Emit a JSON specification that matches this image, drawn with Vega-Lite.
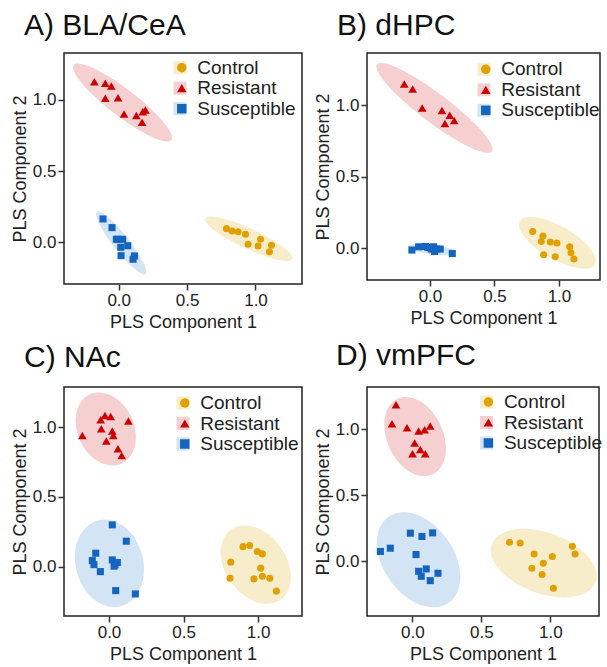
{
  "$schema": "https://vega.github.io/schema/vega-lite/v6.json",
  "padding": {"left": 10, "top": 10, "right": 0, "bottom": 0},
  "config": {
    "font": "Liberation Sans",
    "view": {"stroke": "#222", "strokeWidth": 1.5},
    "axis": {"grid": false, "domain": false, "tickColor": "#333", "tickSize": 6, "tickWidth": 1.5, "labelFontSize": 17, "labelColor": "#222", "titleFontSize": 18, "titleFontWeight": "normal", "titleColor": "#222", "labelPadding": 2},
    "axisX": {"titlePadding": 5},
    "axisY": {"titlePadding": 3},
    "legend": {"labelFontSize": 19, "labelColor": "#222", "padding": 0, "rowPadding": 0.5, "titlePadding": 0}
  },
  "datasets": {
    "pts": [
      {"panel": "A", "group": "Resistant", "x": -0.178, "y": 1.128},
      {"panel": "A", "group": "Resistant", "x": -0.098, "y": 1.117},
      {"panel": "A", "group": "Resistant", "x": -0.054, "y": 1.098},
      {"panel": "A", "group": "Resistant", "x": -0.098, "y": 1.012},
      {"panel": "A", "group": "Resistant", "x": -0.005, "y": 1.016},
      {"panel": "A", "group": "Resistant", "x": 0.039, "y": 0.902},
      {"panel": "A", "group": "Resistant", "x": 0.129, "y": 0.890},
      {"panel": "A", "group": "Resistant", "x": 0.176, "y": 0.918},
      {"panel": "A", "group": "Resistant", "x": 0.195, "y": 0.930},
      {"panel": "A", "group": "Resistant", "x": 0.171, "y": 0.843},
      {"panel": "A", "group": "Control", "x": 0.788, "y": 0.096},
      {"panel": "A", "group": "Control", "x": 0.829, "y": 0.079},
      {"panel": "A", "group": "Control", "x": 0.873, "y": 0.074},
      {"panel": "A", "group": "Control", "x": 0.927, "y": 0.056},
      {"panel": "A", "group": "Control", "x": 1.037, "y": 0.021},
      {"panel": "A", "group": "Control", "x": 0.946, "y": -0.014},
      {"panel": "A", "group": "Control", "x": 1.019, "y": -0.026},
      {"panel": "A", "group": "Control", "x": 1.117, "y": -0.021},
      {"panel": "A", "group": "Control", "x": 1.102, "y": -0.066},
      {"panel": "A", "group": "Susceptible", "x": -0.115, "y": 0.164},
      {"panel": "A", "group": "Susceptible", "x": -0.049, "y": 0.103},
      {"panel": "A", "group": "Susceptible", "x": -0.007, "y": 0.021},
      {"panel": "A", "group": "Susceptible", "x": 0.029, "y": 0.021},
      {"panel": "A", "group": "Susceptible", "x": 0.015, "y": -0.035},
      {"panel": "A", "group": "Susceptible", "x": 0.066, "y": -0.024},
      {"panel": "A", "group": "Susceptible", "x": 0.017, "y": -0.094},
      {"panel": "A", "group": "Susceptible", "x": 0.115, "y": -0.096},
      {"panel": "A", "group": "Susceptible", "x": 0.105, "y": -0.119},
      {"panel": "A", "group": "Susceptible", "x": -0.017, "y": 0.021},
      {"panel": "B", "group": "Resistant", "x": -0.199, "y": 1.151},
      {"panel": "B", "group": "Resistant", "x": -0.134, "y": 1.116},
      {"panel": "B", "group": "Resistant", "x": -0.060, "y": 0.983},
      {"panel": "B", "group": "Resistant", "x": 0.093, "y": 0.965},
      {"panel": "B", "group": "Resistant", "x": 0.153, "y": 0.932},
      {"panel": "B", "group": "Resistant", "x": 0.116, "y": 0.874},
      {"panel": "B", "group": "Resistant", "x": 0.188, "y": 0.895},
      {"panel": "B", "group": "Control", "x": 0.796, "y": 0.116},
      {"panel": "B", "group": "Control", "x": 0.876, "y": 0.084},
      {"panel": "B", "group": "Control", "x": 0.863, "y": 0.046},
      {"panel": "B", "group": "Control", "x": 0.933, "y": 0.042},
      {"panel": "B", "group": "Control", "x": 0.984, "y": 0.035},
      {"panel": "B", "group": "Control", "x": 1.083, "y": 0.009},
      {"panel": "B", "group": "Control", "x": 0.881, "y": -0.047},
      {"panel": "B", "group": "Control", "x": 0.971, "y": -0.061},
      {"panel": "B", "group": "Control", "x": 1.093, "y": -0.033},
      {"panel": "B", "group": "Control", "x": 1.116, "y": -0.077},
      {"panel": "B", "group": "Susceptible", "x": -0.140, "y": -0.014},
      {"panel": "B", "group": "Susceptible", "x": -0.088, "y": 0.009},
      {"panel": "B", "group": "Susceptible", "x": -0.036, "y": 0.011},
      {"panel": "B", "group": "Susceptible", "x": -0.016, "y": 0.004},
      {"panel": "B", "group": "Susceptible", "x": 0.010, "y": -0.007},
      {"panel": "B", "group": "Susceptible", "x": 0.036, "y": -0.024},
      {"panel": "B", "group": "Susceptible", "x": 0.054, "y": -0.007},
      {"panel": "B", "group": "Susceptible", "x": 0.080, "y": -0.007},
      {"panel": "B", "group": "Susceptible", "x": 0.173, "y": -0.038},
      {"panel": "B", "group": "Susceptible", "x": 0.029, "y": 0.009},
      {"panel": "C", "group": "Resistant", "x": -0.179, "y": 0.940},
      {"panel": "C", "group": "Resistant", "x": -0.056, "y": 1.052},
      {"panel": "C", "group": "Resistant", "x": -0.027, "y": 1.083},
      {"panel": "C", "group": "Resistant", "x": 0.011, "y": 1.076},
      {"panel": "C", "group": "Resistant", "x": -0.052, "y": 0.988},
      {"panel": "C", "group": "Resistant", "x": 0.022, "y": 0.971},
      {"panel": "C", "group": "Resistant", "x": -0.018, "y": 0.900},
      {"panel": "C", "group": "Resistant", "x": 0.029, "y": 0.940},
      {"panel": "C", "group": "Resistant", "x": 0.060, "y": 0.844},
      {"panel": "C", "group": "Resistant", "x": 0.085, "y": 0.796},
      {"panel": "C", "group": "Resistant", "x": 0.130, "y": 1.043},
      {"panel": "C", "group": "Susceptible", "x": 0.022, "y": 0.299},
      {"panel": "C", "group": "Susceptible", "x": 0.116, "y": 0.182},
      {"panel": "C", "group": "Susceptible", "x": -0.089, "y": 0.096},
      {"panel": "C", "group": "Susceptible", "x": -0.112, "y": 0.043},
      {"panel": "C", "group": "Susceptible", "x": -0.101, "y": 0.014},
      {"panel": "C", "group": "Susceptible", "x": -0.058, "y": -0.036},
      {"panel": "C", "group": "Susceptible", "x": 0.022, "y": 0.048},
      {"panel": "C", "group": "Susceptible", "x": 0.040, "y": 0.012},
      {"panel": "C", "group": "Susceptible", "x": 0.056, "y": 0.029},
      {"panel": "C", "group": "Susceptible", "x": 0.034, "y": 0.003},
      {"panel": "C", "group": "Susceptible", "x": 0.045, "y": -0.172},
      {"panel": "C", "group": "Susceptible", "x": 0.177, "y": -0.196},
      {"panel": "C", "group": "Control", "x": 0.899, "y": 0.143},
      {"panel": "C", "group": "Control", "x": 0.944, "y": 0.151},
      {"panel": "C", "group": "Control", "x": 0.995, "y": 0.108},
      {"panel": "C", "group": "Control", "x": 1.029, "y": 0.091},
      {"panel": "C", "group": "Control", "x": 0.817, "y": 0.032},
      {"panel": "C", "group": "Control", "x": 1.018, "y": -0.011},
      {"panel": "C", "group": "Control", "x": 0.812, "y": -0.083},
      {"panel": "C", "group": "Control", "x": 0.973, "y": -0.088},
      {"panel": "C", "group": "Control", "x": 1.029, "y": -0.069},
      {"panel": "C", "group": "Control", "x": 1.079, "y": -0.083},
      {"panel": "C", "group": "Control", "x": 1.123, "y": -0.176},
      {"panel": "D", "group": "Resistant", "x": -0.118, "y": 1.187},
      {"panel": "D", "group": "Resistant", "x": -0.147, "y": 1.043},
      {"panel": "D", "group": "Resistant", "x": -0.038, "y": 1.012},
      {"panel": "D", "group": "Resistant", "x": 0.046, "y": 0.987},
      {"panel": "D", "group": "Resistant", "x": 0.089, "y": 0.997},
      {"panel": "D", "group": "Resistant", "x": 0.130, "y": 1.025},
      {"panel": "D", "group": "Resistant", "x": 0.017, "y": 0.896},
      {"panel": "D", "group": "Resistant", "x": 0.058, "y": 0.848},
      {"panel": "D", "group": "Resistant", "x": 0.002, "y": 0.815},
      {"panel": "D", "group": "Resistant", "x": 0.094, "y": 0.815},
      {"panel": "D", "group": "Susceptible", "x": -0.231, "y": 0.074},
      {"panel": "D", "group": "Susceptible", "x": -0.159, "y": 0.099},
      {"panel": "D", "group": "Susceptible", "x": -0.014, "y": 0.213},
      {"panel": "D", "group": "Susceptible", "x": 0.070, "y": 0.188},
      {"panel": "D", "group": "Susceptible", "x": 0.147, "y": 0.215},
      {"panel": "D", "group": "Susceptible", "x": 0.027, "y": 0.051},
      {"panel": "D", "group": "Susceptible", "x": 0.046, "y": -0.076},
      {"panel": "D", "group": "Susceptible", "x": 0.065, "y": -0.114},
      {"panel": "D", "group": "Susceptible", "x": 0.101, "y": -0.058},
      {"panel": "D", "group": "Susceptible", "x": 0.130, "y": -0.147},
      {"panel": "D", "group": "Susceptible", "x": 0.186, "y": -0.091},
      {"panel": "D", "group": "Control", "x": 0.704, "y": 0.144},
      {"panel": "D", "group": "Control", "x": 0.781, "y": 0.139},
      {"panel": "D", "group": "Control", "x": 0.882, "y": 0.055},
      {"panel": "D", "group": "Control", "x": 0.949, "y": -0.015},
      {"panel": "D", "group": "Control", "x": 1.014, "y": 0.036},
      {"panel": "D", "group": "Control", "x": 0.866, "y": -0.053},
      {"panel": "D", "group": "Control", "x": 0.940, "y": -0.101},
      {"panel": "D", "group": "Control", "x": 1.159, "y": 0.114},
      {"panel": "D", "group": "Control", "x": 1.179, "y": 0.055},
      {"panel": "D", "group": "Control", "x": 1.022, "y": -0.205}
    ],
    "ell": [
      {"panel": "A", "group": "Control", "x": 0.951, "y": 0.025, "major": 0.702, "angle": 25},
      {"panel": "A", "group": "Resistant", "x": 0.028, "y": 0.982, "major": 0.900, "angle": 37.5},
      {"panel": "A", "group": "Susceptible", "x": 0.018, "y": -0.004, "major": 0.578, "angle": 52},
      {"panel": "B", "group": "Control", "x": 0.988, "y": 0.037, "major": 0.673, "angle": 30},
      {"panel": "B", "group": "Resistant", "x": 0.035, "y": 0.983, "major": 1.116, "angle": 37},
      {"panel": "B", "group": "Susceptible", "x": 0.016, "y": -0.010, "major": 0.372, "angle": 7},
      {"panel": "C", "group": "Control", "x": 0.985, "y": 0.014, "major": 0.576, "angle": 55},
      {"panel": "C", "group": "Resistant", "x": -0.022, "y": 0.986, "major": 0.510, "angle": 65},
      {"panel": "C", "group": "Susceptible", "x": 0.003, "y": 0.023, "major": 0.596, "angle": 75},
      {"panel": "D", "group": "Control", "x": 0.952, "y": -0.014, "major": 0.800, "angle": 20},
      {"panel": "D", "group": "Resistant", "x": 0.020, "y": 0.945, "major": 0.602, "angle": 65},
      {"panel": "D", "group": "Susceptible", "x": 0.046, "y": 0.011, "major": 0.759, "angle": 55}
    ]
  },
  "columns": 2,
  "spacing": {"row": 8, "column": 10},
  "resolve": {"scale": {"x": "independent", "y": "independent", "color": "independent", "fill": "independent", "shape": "independent", "size": "independent", "angle": "independent"}},
  "concat": [
    {
      "title": {"text": "A) BLA/CeA", "anchor": "start", "frame": "group", "dx": -40, "dy": 30, "offset": 18, "baseline": "alphabetic", "fontSize": 30, "fontWeight": "normal", "color": "#111"},
      "width": 238, "height": 231,
      "encoding": {
        "x": {"field": "x", "type": "quantitative", "title": "PLS Component 1", "scale": {"domain": [-0.40, 1.34], "nice": false, "zero": false}, "axis": {"values": [0, 0.5, 1], "format": ".1f"}},
        "y": {"field": "y", "type": "quantitative", "title": "PLS Component 2", "scale": {"domain": [-0.293, 1.33], "nice": false, "zero": false}, "axis": {"values": [0, 0.5, 1], "format": ".1f"}}
      },
      "layer": [
        {
          "data": {"name": "ell"},
          "transform": [{"filter": "datum.panel === 'A'"}],
          "layer": [
            {"transform": [{"filter": "datum.group === 'Control'"}], "mark": {"type": "point", "filled": true, "opacity": 1, "strokeWidth": 0, "shape": "M-1,0A1,0.21 0 1,1 1,0A1,0.21 0 1,1 -1,0Z"}},
            {"transform": [{"filter": "datum.group === 'Resistant'"}], "mark": {"type": "point", "filled": true, "opacity": 1, "strokeWidth": 0, "shape": "M-1,0A1,0.22 0 1,1 1,0A1,0.22 0 1,1 -1,0Z"}},
            {"transform": [{"filter": "datum.group === 'Susceptible'"}], "mark": {"type": "point", "filled": true, "opacity": 1, "strokeWidth": 0, "shape": "M-1,0A1,0.2 0 1,1 1,0A1,0.2 0 1,1 -1,0Z"}}
          ],
          "encoding": {
            "fill": {"field": "group", "type": "nominal", "scale": {"range": ["#F8EDCB", "#F6D0D0", "#D3E4F5"]}, "legend": {"orient": "none", "legendX": 106.5, "legendY": 5.2, "title": null, "symbolType": "square", "symbolSize": 169, "labelExpr": "''", "symbolOpacity": 1, "symbolStrokeWidth": 0, "zindex": 0}},
            "size": {"field": "major", "type": "quantitative", "scale": {"type": "pow", "exponent": 2, "domain": [0, 1], "range": [0, 18687]}, "legend": null},
            "angle": {"field": "angle", "type": "quantitative", "scale": {"domain": [0, 360], "range": [0, 360]}}
          }
        },
        {
          "data": {"name": "pts"},
          "transform": [{"filter": "datum.panel === 'A'"}],
          "mark": {"type": "point", "filled": true, "opacity": 1},
          "encoding": {
            "color": {"field": "group", "type": "nominal", "scale": {"range": ["#E0A100", "#CC0000", "#1464C0"]}, "legend": {"orient": "none", "legendX": 108.3, "legendY": 5.2, "title": null, "symbolSize": 90, "labelOffset": 6, "symbolStrokeWidth": 0, "zindex": 1}},
            "shape": {"field": "group", "type": "nominal", "scale": {"range": ["circle", "triangle-up", "square"]}},
            "size": {"condition": {"test": "datum.group === 'Resistant'", "value": 75}, "value": 50}
          }
        }
      ]
    },
    {
      "title": {"text": "B) dHPC", "anchor": "start", "frame": "group", "dx": -30, "dy": 30, "offset": 18, "baseline": "alphabetic", "fontSize": 30, "fontWeight": "normal", "color": "#111"},
      "width": 233, "height": 227,
      "encoding": {
        "x": {"field": "x", "type": "quantitative", "title": "PLS Component 1", "scale": {"domain": [-0.488, 1.318], "nice": false, "zero": false}, "axis": {"values": [0, 0.5, 1], "format": ".1f"}},
        "y": {"field": "y", "type": "quantitative", "title": "PLS Component 2", "scale": {"domain": [-0.224, 1.368], "nice": false, "zero": false}, "axis": {"values": [0, 0.5, 1], "format": ".1f"}}
      },
      "layer": [
        {
          "data": {"name": "ell"},
          "transform": [{"filter": "datum.panel === 'B'"}],
          "layer": [
            {"transform": [{"filter": "datum.group === 'Control'"}], "mark": {"type": "point", "filled": true, "opacity": 1, "strokeWidth": 0, "shape": "M-1,0A1,0.38 0 1,1 1,0A1,0.38 0 1,1 -1,0Z"}},
            {"transform": [{"filter": "datum.group === 'Resistant'"}], "mark": {"type": "point", "filled": true, "opacity": 1, "strokeWidth": 0, "shape": "M-1,0A1,0.2 0 1,1 1,0A1,0.2 0 1,1 -1,0Z"}},
            {"transform": [{"filter": "datum.group === 'Susceptible'"}], "mark": {"type": "point", "filled": true, "opacity": 1, "strokeWidth": 0, "shape": "M-1,0A1,0.2 0 1,1 1,0A1,0.2 0 1,1 -1,0Z"}}
          ],
          "encoding": {
            "fill": {"field": "group", "type": "nominal", "scale": {"range": ["#F8EDCB", "#F6D0D0", "#D3E4F5"]}, "legend": {"orient": "none", "legendX": 107.5, "legendY": 6.8, "title": null, "symbolType": "square", "symbolSize": 169, "labelExpr": "''", "symbolOpacity": 1, "symbolStrokeWidth": 0, "zindex": 0}},
            "size": {"field": "major", "type": "quantitative", "scale": {"type": "pow", "exponent": 2, "domain": [0, 1], "range": [0, 16641]}, "legend": null},
            "angle": {"field": "angle", "type": "quantitative", "scale": {"domain": [0, 360], "range": [0, 360]}}
          }
        },
        {
          "data": {"name": "pts"},
          "transform": [{"filter": "datum.panel === 'B'"}],
          "mark": {"type": "point", "filled": true, "opacity": 1},
          "encoding": {
            "color": {"field": "group", "type": "nominal", "scale": {"range": ["#E0A100", "#CC0000", "#1464C0"]}, "legend": {"orient": "none", "legendX": 109.3, "legendY": 6.8, "title": null, "symbolSize": 90, "labelOffset": 6, "symbolStrokeWidth": 0, "zindex": 1}},
            "shape": {"field": "group", "type": "nominal", "scale": {"range": ["circle", "triangle-up", "square"]}},
            "size": {"condition": {"test": "datum.group === 'Resistant'", "value": 75}, "value": 50}
          }
        }
      ]
    },
    {
      "title": {"text": "C) NAc", "anchor": "start", "frame": "group", "dx": -40, "dy": 30, "offset": 20, "baseline": "alphabetic", "fontSize": 30, "fontWeight": "normal", "color": "#111"},
      "width": 238, "height": 229,
      "encoding": {
        "x": {"field": "x", "type": "quantitative", "title": "PLS Component 1", "scale": {"domain": [-0.302, 1.295], "nice": false, "zero": false}, "axis": {"values": [0, 0.5, 1], "format": ".1f"}},
        "y": {"field": "y", "type": "quantitative", "title": "PLS Component 2", "scale": {"domain": [-0.354, 1.287], "nice": false, "zero": false}, "axis": {"values": [0, 0.5, 1], "format": ".1f"}}
      },
      "layer": [
        {
          "data": {"name": "ell"},
          "transform": [{"filter": "datum.panel === 'C'"}],
          "layer": [
            {"transform": [{"filter": "datum.group === 'Control'"}], "mark": {"type": "point", "filled": true, "opacity": 1, "strokeWidth": 0, "shape": "M-1,0A1,0.71 0 1,1 1,0A1,0.71 0 1,1 -1,0Z"}},
            {"transform": [{"filter": "datum.group === 'Resistant'"}], "mark": {"type": "point", "filled": true, "opacity": 1, "strokeWidth": 0, "shape": "M-1,0A1,0.74 0 1,1 1,0A1,0.74 0 1,1 -1,0Z"}},
            {"transform": [{"filter": "datum.group === 'Susceptible'"}], "mark": {"type": "point", "filled": true, "opacity": 1, "strokeWidth": 0, "shape": "M-1,0A1,0.76 0 1,1 1,0A1,0.76 0 1,1 -1,0Z"}}
          ],
          "encoding": {
            "fill": {"field": "group", "type": "nominal", "scale": {"range": ["#F8EDCB", "#F6D0D0", "#D3E4F5"]}, "legend": {"orient": "none", "legendX": 109.5, "legendY": 6.5, "title": null, "symbolType": "square", "symbolSize": 169, "labelExpr": "''", "symbolOpacity": 1, "symbolStrokeWidth": 0, "zindex": 0}},
            "size": {"field": "major", "type": "quantitative", "scale": {"type": "pow", "exponent": 2, "domain": [0, 1], "range": [0, 22201]}, "legend": null},
            "angle": {"field": "angle", "type": "quantitative", "scale": {"domain": [0, 360], "range": [0, 360]}}
          }
        },
        {
          "data": {"name": "pts"},
          "transform": [{"filter": "datum.panel === 'C'"}],
          "mark": {"type": "point", "filled": true, "opacity": 1},
          "encoding": {
            "color": {"field": "group", "type": "nominal", "scale": {"range": ["#E0A100", "#CC0000", "#1464C0"]}, "legend": {"orient": "none", "legendX": 111.3, "legendY": 6.5, "title": null, "symbolSize": 90, "labelOffset": 6, "symbolStrokeWidth": 0, "zindex": 1}},
            "shape": {"field": "group", "type": "nominal", "scale": {"range": ["circle", "triangle-up", "square"]}},
            "size": {"condition": {"test": "datum.group === 'Resistant'", "value": 75}, "value": 50}
          }
        }
      ]
    },
    {
      "title": {"text": "D) vmPFC", "anchor": "start", "frame": "group", "dx": -31, "dy": 30, "offset": 22, "baseline": "alphabetic", "fontSize": 30, "fontWeight": "normal", "color": "#111"},
      "width": 232, "height": 229,
      "encoding": {
        "x": {"field": "x", "type": "quantitative", "title": "PLS Component 1", "scale": {"domain": [-0.328, 1.352], "nice": false, "zero": false}, "axis": {"values": [0, 0.5, 1], "format": ".1f"}},
        "y": {"field": "y", "type": "quantitative", "title": "PLS Component 2", "scale": {"domain": [-0.415, 1.321], "nice": false, "zero": false}, "axis": {"values": [0, 0.5, 1], "format": ".1f"}}
      },
      "layer": [
        {
          "data": {"name": "ell"},
          "transform": [{"filter": "datum.panel === 'D'"}],
          "layer": [
            {"transform": [{"filter": "datum.group === 'Control'"}], "mark": {"type": "point", "filled": true, "opacity": 1, "strokeWidth": 0, "shape": "M-1,0A1,0.55 0 1,1 1,0A1,0.55 0 1,1 -1,0Z"}},
            {"transform": [{"filter": "datum.group === 'Resistant'"}], "mark": {"type": "point", "filled": true, "opacity": 1, "strokeWidth": 0, "shape": "M-1,0A1,0.67 0 1,1 1,0A1,0.67 0 1,1 -1,0Z"}},
            {"transform": [{"filter": "datum.group === 'Susceptible'"}], "mark": {"type": "point", "filled": true, "opacity": 1, "strokeWidth": 0, "shape": "M-1,0A1,0.67 0 1,1 1,0A1,0.67 0 1,1 -1,0Z"}}
          ],
          "encoding": {
            "fill": {"field": "group", "type": "nominal", "scale": {"range": ["#F8EDCB", "#F6D0D0", "#D3E4F5"]}, "legend": {"orient": "none", "legendX": 110.1, "legendY": 5.5, "title": null, "symbolType": "square", "symbolSize": 169, "labelExpr": "''", "symbolOpacity": 1, "symbolStrokeWidth": 0, "zindex": 0}},
            "size": {"field": "major", "type": "quantitative", "scale": {"type": "pow", "exponent": 2, "domain": [0, 1], "range": [0, 19127]}, "legend": null},
            "angle": {"field": "angle", "type": "quantitative", "scale": {"domain": [0, 360], "range": [0, 360]}}
          }
        },
        {
          "data": {"name": "pts"},
          "transform": [{"filter": "datum.panel === 'D'"}],
          "mark": {"type": "point", "filled": true, "opacity": 1},
          "encoding": {
            "color": {"field": "group", "type": "nominal", "scale": {"range": ["#E0A100", "#CC0000", "#1464C0"]}, "legend": {"orient": "none", "legendX": 111.9, "legendY": 5.5, "title": null, "symbolSize": 90, "labelOffset": 6, "symbolStrokeWidth": 0, "zindex": 1}},
            "shape": {"field": "group", "type": "nominal", "scale": {"range": ["circle", "triangle-up", "square"]}},
            "size": {"condition": {"test": "datum.group === 'Resistant'", "value": 75}, "value": 50}
          }
        }
      ]
    }
  ]
}
